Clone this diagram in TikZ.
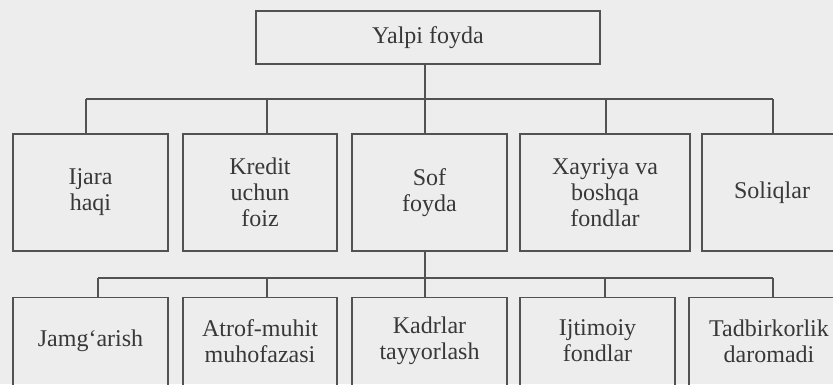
\documentclass[tikz,border=0pt]{standalone}
\usepackage{fontspec}
\setmainfont{Liberation Serif}
\begin{document}
\begin{tikzpicture}[x=1pt,y=-1pt,
  line width=1.2pt,
  lc/.style={draw=black!68},
  box/.style={lc, rectangle, inner sep=0pt, align=center, text=black!78,
    font=\fontsize{24}{26}\selectfont},
  lab/.style={align=center, text=black!78, inner sep=0pt,
    font=\fontsize{24}{26}\selectfont},
  conn/.style={lc}]
\fill[black!7] (0,0) rectangle (833,384);
\useasboundingbox (0,0) rectangle (833,384);
\clip (0,0) rectangle (833,384);
% top
\node[box, minimum width=344pt, minimum height=53pt] (top) at (428,37.5) {Yalpi foyda};
% level 2
\node[box, minimum width=155pt, minimum height=117pt] (ijara) at (90.5,192.5) {Ijara\\haqi};
\node[box, minimum width=154pt, minimum height=117pt] (kredit) at (260,192.5) {Kredit\\uchun\\foiz};
\node[box, minimum width=155pt, minimum height=117pt] (sof) at (429.5,192.5) {Sof\\foyda};
\node[box, minimum width=170pt, minimum height=117pt] (xayr) at (605,192.5) {Xayriya va\\boshqa\\fondlar};
\node[box, minimum width=140pt, minimum height=117pt] (soliq) at (772,192.5) {Soliqlar};
% level 3 boxes (extend below the picture)
\node[box, minimum width=155pt, minimum height=120pt, anchor=north] (jamg) at (90.5,297) {};
\node[box, minimum width=154pt, minimum height=120pt, anchor=north] (atrof) at (260,297) {};
\node[box, minimum width=155pt, minimum height=120pt, anchor=north] (kadr) at (429.5,297) {};
\node[box, minimum width=155pt, minimum height=120pt, anchor=north] (ijt) at (597.5,297) {};
\node[box, minimum width=160pt, minimum height=120pt, anchor=north] (tadb) at (769,297) {};
\node[lab] (tjamg) at ([yshift=-44pt]jamg.north) {Jamg‘arish};
\node[lab] (tatrof) at ([yshift=-44pt]atrof.north) {Atrof-muhit\\muhofazasi};
\node[lab] (tkadr) at ([yshift=-44pt]kadr.north) {Kadrlar\\tayyorlash};
\node[lab] (tijt) at ([yshift=-44pt]ijt.north) {Ijtimoiy\\fondlar};
\node[lab] (ttadb) at ([yshift=-44pt]tadb.north) {Tadbirkorlik\\daromadi};
% level 2 bus
\coordinate (b1) at (86,99);
\coordinate (b2) at (267,99);
\coordinate (b3) at (425,99);
\coordinate (b4) at (606,99);
\coordinate (b5) at (773,99);
\draw[conn] (top.south -| b3) -- (b3);
\draw[conn] (b1) -- (b5);
\draw[conn] (b1) -- (b1 |- ijara.north);
\draw[conn] (b2) -- (b2 |- kredit.north);
\draw[conn] (b3) -- (b3 |- sof.north);
\draw[conn] (b4) -- (b4 |- xayr.north);
\draw[conn] (b5) -- (b5 |- soliq.north);
% level 3 bus
\coordinate (c1) at (98,278);
\coordinate (c2) at (267,278);
\coordinate (c3) at (425,278);
\coordinate (c4) at (605,278);
\coordinate (c5) at (773,278);
\draw[conn] (c1) -- (c5);
\draw[conn] (sof.south -| c3) -- (c3 |- kadr.north);
\draw[conn] (c1) -- (c1 |- jamg.north);
\draw[conn] (c2) -- (c2 |- atrof.north);
\draw[conn] (c4) -- (c4 |- ijt.north);
\draw[conn] (c5) -- (c5 |- tadb.north);
\end{tikzpicture}
\end{document}
